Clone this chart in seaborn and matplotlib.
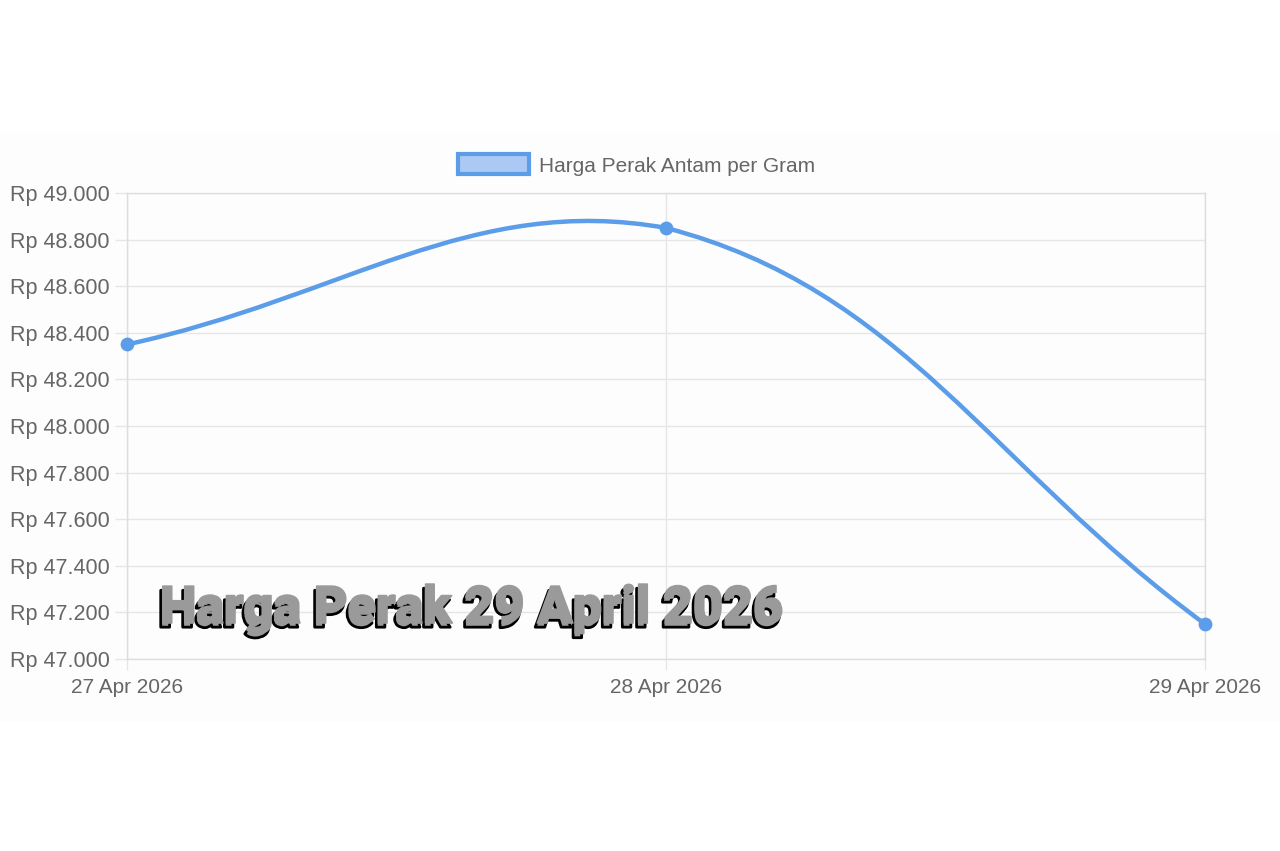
import numpy as np
import pandas as pd
import matplotlib
matplotlib.use("Agg")
import matplotlib.pyplot as plt
import seaborn as sns
from matplotlib.path import Path
from matplotlib.patches import PathPatch, Patch, Rectangle
import matplotlib.patheffects as pe

# ---- data ----
dates = ["27 Apr 2026", "28 Apr 2026", "29 Apr 2026"]
prices = [48350, 48850, 47150]
y_ticks = list(range(47000, 49001, 200))
legend_label = "Harga Perak Antam per Gram"
overlay_title = "Harga Perak 29 April 2026"

LINE = "#5b9de8"
FILL = "#abc9f2"
GRID = "#e6e6e6"
TXT = "#666666"

sns.set_theme(style="white")
plt.rcParams["font.family"] = ["Liberation Sans", "DejaVu Sans"]

W, H = 1280, 851
fig = plt.figure(figsize=(W / 100, H / 100), dpi=100)
fig.patch.set_facecolor("white")
# faint panel behind the chart screenshot
fig.add_artist(Rectangle((0, 1 - 722 / H), 1, (722 - 132) / H, transform=fig.transFigure,
                         facecolor="#fdfdfd", edgecolor="none", zorder=0))
ax = fig.add_axes([127 / W, 1 - 659 / H, (1205 - 127) / W, (659 - 193) / H])
ax.set_facecolor("none")

df = pd.DataFrame({"idx": np.arange(len(dates)), "price": prices})
ax.set_xlim(0, len(dates) - 1)
ax.set_ylim(y_ticks[0], y_ticks[-1])
ax.set_xticks(df["idx"])
ax.set_xticklabels(dates)
ax.set_yticks(y_ticks)
ax.set_yticklabels([f"Rp {v:,}".replace(",", ".") for v in y_ticks])
ax.grid(True, color=GRID, lw=1)
ax.set_axisbelow(True)
for s in ax.spines.values():
    s.set_color("#dddddd")
    s.set_linewidth(1)
ax.tick_params(axis="y", left=True, length=8.6, width=1, color=GRID, pad=4,
               labelsize=15.5, labelcolor=TXT)
ax.tick_params(axis="x", bottom=True, length=8, width=1, color=GRID, pad=6,
               labelsize=15, labelcolor=TXT)
ax.set_xlabel("")
ax.set_ylabel("")

# ---- smooth curve (Chart.js-style bezier, tension 0.4, capped to area) ----
fig.canvas.draw()
pts = ax.transData.transform(np.column_stack([df["idx"], df["price"]]).astype(float))
t = 0.4
n = len(pts)
cps = []
for i in range(n):
    prev = pts[i - 1] if i > 0 else pts[i]
    cur = pts[i]
    nxt = pts[i + 1] if i < n - 1 else pts[i]
    d01 = np.hypot(*(cur - prev))
    d12 = np.hypot(*(nxt - cur))
    tot = d01 + d12
    s01 = d01 / tot if tot else 0
    s12 = d12 / tot if tot else 0
    cp_prev = cur - t * s01 * (nxt - prev)
    cp_next = cur + t * s12 * (nxt - prev)
    cps.append((cp_prev, cp_next))
bb = ax.bbox
def cap(p):
    return np.array([min(max(p[0], bb.x0), bb.x1), min(max(p[1], bb.y0), bb.y1)])
verts = [pts[0]]
codes = [Path.MOVETO]
for i in range(n - 1):
    verts += [cap(cps[i][1]), cap(cps[i + 1][0]), pts[i + 1]]
    codes += [Path.CURVE4] * 3
verts = ax.transData.inverted().transform(np.array(verts))
patch = PathPatch(Path(verts, codes), fill=False, edgecolor=LINE, lw=3.2,
                  transform=ax.transData, capstyle="round", joinstyle="round",
                  zorder=3, clip_on=False)
ax.add_patch(patch)

sns.scatterplot(data=df, x="idx", y="price", ax=ax, s=80, color=LINE,
                edgecolor=LINE, linewidth=1, zorder=4, clip_on=False, legend=False)
ax.set_xlabel("")
ax.set_ylabel("")

# ---- legend ----
handle = Patch(facecolor=FILL, edgecolor=LINE, linewidth=3, label=legend_label)
fig.legend(handles=[handle], loc="center", bbox_to_anchor=(636.5 / W, 1 - 165 / H),
           frameon=False, handlelength=3.4, handleheight=1.1, handletextpad=0.5,
           fontsize=15, labelcolor=TXT)

# ---- overlay title ----
GREY = "#9a9a9a"
txt = fig.text(160 / W, 1 - 623 / H, overlay_title, fontsize=30,
               family=["Roboto", "DejaVu Sans"], fontweight="black",
               color=GREY, ha="left", va="baseline", zorder=10,
               path_effects=[pe.Stroke(offset=(-1.5, -3), linewidth=2.0, foreground="black"),
                             pe.Stroke(linewidth=1.2, foreground=GREY),
                             pe.Normal()])
fig.canvas.draw()
w = txt.get_window_extent().width
txt.set_fontsize(30 * 622 / w)

fig.savefig("out.png", dpi=100, facecolor="white")
